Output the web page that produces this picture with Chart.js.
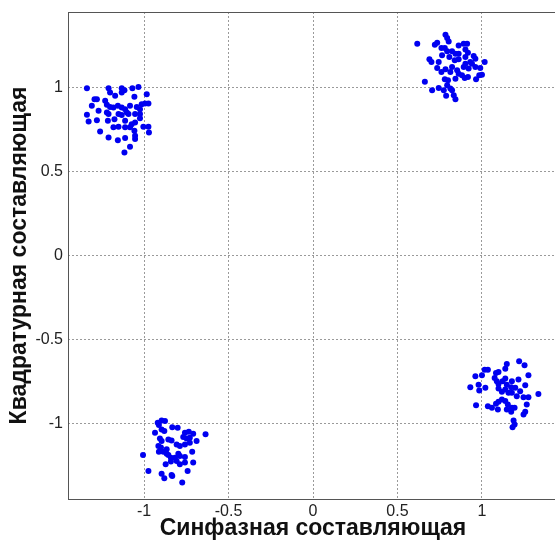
<!DOCTYPE html>
<html>
<head>
<meta charset="utf-8">
<script src="https://cdn.jsdelivr.net/npm/chart.js@4"></script>
<style>
  html, body { margin: 0; padding: 0; background: #fff; overflow: hidden; }
  #wrap { width: 561px; height: 542px; }
</style>
</head>
<body>
<div id="wrap"><canvas id="scatter"></canvas></div>
<script>
// Подписи делений
const tickValues = [-1, -0.5, 0, 0.5, 1];

// Кластеры точек созвездия (I, Q)
const clusterTL = [
  [-1.338, 0.996], [-1.210, 0.996], [-1.132, 0.996], [-1.116, 0.984], [-1.069, 0.996],
  [-1.033, 1.004], [-1.201, 0.970], [-1.132, 0.970], [-1.057, 0.945], [-0.984, 0.960],
  [-1.293, 0.931], [-1.279, 0.931], [-1.230, 0.921], [-1.171, 0.951], [-1.309, 0.891],
  [-1.220, 0.897], [-1.201, 0.885], [-1.181, 0.881], [-1.155, 0.891], [-1.132, 0.881],
  [-1.112, 0.871], [-1.083, 0.891], [-1.043, 0.885], [-1.014, 0.901], [-0.994, 0.905],
  [-0.974, 0.905], [-1.024, 0.871], [-1.338, 0.838], [-1.269, 0.862], [-1.220, 0.852],
  [-1.210, 0.842], [-1.151, 0.842], [-1.132, 0.836], [-1.102, 0.852], [-1.092, 0.842],
  [-1.053, 0.842], [-1.024, 0.842], [-1.328, 0.798], [-1.279, 0.806], [-1.214, 0.802],
  [-1.175, 0.812], [-1.112, 0.802], [-1.073, 0.782], [-1.053, 0.792], [-1.024, 0.818],
  [-1.260, 0.739], [-1.181, 0.763], [-1.151, 0.767], [-1.112, 0.763], [-1.083, 0.763],
  [-1.057, 0.743], [-1.004, 0.767], [-0.974, 0.767], [-0.971, 0.733], [-1.210, 0.703],
  [-1.155, 0.687], [-1.112, 0.699], [-1.053, 0.713], [-1.053, 0.693], [-1.083, 0.648],
  [-1.116, 0.614]
];
const clusterTR = [
  [0.617, 1.261], [0.784, 1.315], [0.794, 1.295], [0.803, 1.275], [0.721, 1.255],
  [0.735, 1.267], [0.760, 1.235], [0.780, 1.235], [0.862, 1.251], [0.892, 1.261],
  [0.912, 1.261], [0.794, 1.216], [0.823, 1.216], [0.843, 1.202], [0.862, 1.202],
  [0.902, 1.227], [0.917, 1.208], [0.764, 1.192], [0.807, 1.182], [0.839, 1.162],
  [0.862, 1.168], [0.902, 1.182], [0.951, 1.188], [0.961, 1.172], [0.689, 1.168],
  [0.701, 1.152], [0.744, 1.152], [0.931, 1.152], [1.016, 1.152], [0.902, 1.142],
  [0.941, 1.142], [0.735, 1.117], [0.784, 1.109], [0.823, 1.123], [0.853, 1.103],
  [0.892, 1.123], [0.921, 1.113], [0.961, 1.123], [0.990, 1.117], [0.813, 1.093],
  [0.862, 1.083], [0.882, 1.073], [0.917, 1.063], [0.760, 1.093], [0.780, 1.049],
  [0.799, 1.044], [0.843, 1.053], [0.898, 1.057], [0.965, 1.049], [0.984, 1.073],
  [1.000, 1.077], [0.662, 1.034], [0.794, 1.014], [0.813, 0.994], [0.705, 0.984],
  [0.744, 0.998], [0.774, 0.984], [0.823, 0.984], [0.788, 0.951], [0.833, 0.955],
  [0.843, 0.931]
];
const clusterBR = [
  [1.220, -0.630], [1.252, -0.654], [1.147, -0.646], [1.138, -0.674], [1.016, -0.680],
  [1.035, -0.680], [0.961, -0.719], [1.000, -0.713], [1.083, -0.699], [1.098, -0.693],
  [1.275, -0.713], [1.216, -0.739], [0.931, -0.784], [0.980, -0.769], [0.984, -0.804],
  [1.020, -0.788], [1.075, -0.729], [1.088, -0.749], [1.098, -0.765], [1.122, -0.749],
  [1.138, -0.733], [1.147, -0.769], [1.177, -0.749], [1.173, -0.784], [1.197, -0.788],
  [1.226, -0.808], [1.256, -0.772], [1.334, -0.824], [1.098, -0.792], [1.118, -0.812],
  [1.138, -0.798], [1.157, -0.818], [1.177, -0.818], [1.206, -0.838], [1.246, -0.844],
  [1.275, -0.844], [0.965, -0.891], [1.035, -0.897], [1.059, -0.907], [1.083, -0.883],
  [1.098, -0.871], [1.118, -0.858], [1.138, -0.867], [1.153, -0.887], [1.177, -0.907],
  [1.193, -0.907], [1.265, -0.887], [1.246, -0.947], [1.256, -0.931], [1.094, -0.917],
  [1.147, -0.917], [1.173, -0.931], [1.187, -0.982], [1.193, -1.006], [1.181, -1.022]
];
const clusterBL = [
  [-0.896, -0.982], [-0.876, -0.986], [-0.919, -0.996], [-0.912, -1.010], [-0.833, -1.022],
  [-0.801, -1.026], [-0.896, -1.036], [-0.880, -1.045], [-0.935, -1.055], [-0.758, -1.055],
  [-0.735, -1.049], [-0.709, -1.061], [-0.636, -1.065], [-0.906, -1.089], [-0.896, -1.105],
  [-0.856, -1.095], [-0.837, -1.101], [-0.768, -1.081], [-0.748, -1.089], [-0.729, -1.085],
  [-0.689, -1.105], [-0.915, -1.135], [-0.900, -1.144], [-0.866, -1.154], [-0.807, -1.125],
  [-0.788, -1.135], [-0.758, -1.125], [-0.729, -1.115], [-0.912, -1.168], [-0.886, -1.168],
  [-0.866, -1.180], [-0.856, -1.188], [-0.841, -1.204], [-0.817, -1.204], [-0.797, -1.180],
  [-0.788, -1.194], [-0.758, -1.200], [-0.715, -1.168], [-1.006, -1.188], [-0.872, -1.243],
  [-0.841, -1.227], [-0.807, -1.224], [-0.788, -1.243], [-0.758, -1.233], [-0.709, -1.233],
  [-0.974, -1.283], [-0.896, -1.299], [-0.837, -1.307], [-0.833, -1.313], [-0.742, -1.283],
  [-0.880, -1.326], [-0.774, -1.352]
];

const points = [...clusterTL, ...clusterTR, ...clusterBR, ...clusterBL].map(p => ({ x: p[0], y: p[1] }));

// Рамка вокруг области графика (как box on в MATLAB)
const boxPlugin = {
  id: 'box',
  afterDraw(chart) {
    const { ctx, chartArea: a } = chart;
    ctx.save();
    ctx.strokeStyle = '#555';
    ctx.lineWidth = 1;
    ctx.strokeRect(Math.round(a.left) + 0.5, Math.round(a.top) + 0.5,
      Math.round(a.right - a.left), Math.round(a.bottom - a.top));
    ctx.restore();
  }
};

const gridOpts = {
  color: '#9a9a9a',
  lineWidth: 1,
  drawTicks: false
};

const tickFont = { family: 'Arial, "Liberation Sans"', size: 16 };
const titleFont = { family: 'Arial, "Liberation Sans"', size: 23, weight: 'bold' };

new Chart(document.getElementById('scatter'), {
  type: 'scatter',
  data: {
    datasets: [{
      data: points,
      backgroundColor: '#0000f0',
      borderWidth: 0,
      pointRadius: 3,
      pointHoverRadius: 3
    }]
  },
  options: {
    responsive: true,
    maintainAspectRatio: false,
    animation: false,
    layout: { padding: { top: 12, right: 2, left: 0, bottom: 0 } },
    plugins: { legend: { display: false }, tooltip: { enabled: false } },
    scales: {
      x: {
        type: 'linear',
        min: -1.45,
        max: 1.45,
        afterBuildTicks: s => { s.ticks = tickValues.map(v => ({ value: v })); },
        afterFit: s => { s.height = 43; s.paddingLeft = 0; s.paddingRight = 0; },
        grid: gridOpts,
        border: { display: false, dash: [2, 2] },
        ticks: {
          color: '#222',
          font: tickFont,
          padding: 3,
          maxRotation: 0,
          callback: v => String(v)
        },
        title: {
          display: true,
          text: 'Синфазная составляющая',
          color: '#111',
          font: titleFont,
          padding: { top: -4, bottom: 0 }
        }
      },
      y: {
        type: 'linear',
        min: -1.45,
        max: 1.45,
        afterBuildTicks: s => { s.ticks = tickValues.map(v => ({ value: v })); },
        afterFit: s => { s.width = 68; s.paddingTop = 0; s.paddingBottom = 0; },
        grid: gridOpts,
        border: { display: false, dash: [2, 2] },
        ticks: {
          color: '#222',
          font: tickFont,
          padding: 5,
          callback: v => String(v)
        },
        title: {
          display: true,
          text: 'Квадратурная составляющая',
          color: '#111',
          font: titleFont,
          padding: { top: 6, bottom: 0 }
        }
      }
    }
  },
  plugins: [boxPlugin]
});
</script>
</body>
</html>
